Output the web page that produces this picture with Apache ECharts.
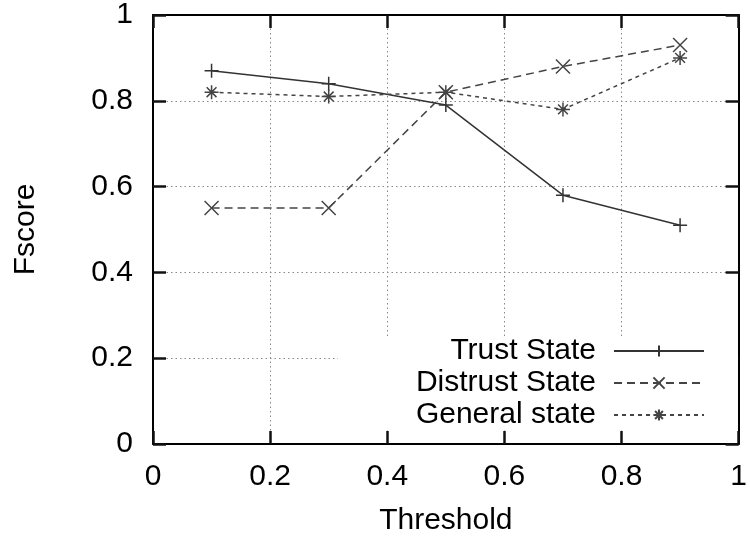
<!DOCTYPE html>
<html>
<head>
<meta charset="utf-8">
<script src="https://cdn.jsdelivr.net/npm/echarts@6/dist/echarts.min.js"></script>
<style>
  html, body { margin: 0; padding: 0; background: #fff; }
  #main { width: 750px; height: 541px; }
</style>
</head>
<body>
<div id="main"></div>
<script>
var thresholds = [0.1, 0.3, 0.5, 0.7, 0.9];
var trustState = [0.87, 0.84, 0.79, 0.58, 0.51];
var distrustState = [0.55, 0.55, 0.82, 0.88, 0.93];
var generalState = [0.82, 0.81, 0.82, 0.78, 0.90];
var seriesNames = ['Trust State', 'Distrust State', 'General state'];
var axisTicks = [0, 0.2, 0.4, 0.6, 0.8, 1];

var FONT = 'Liberation Sans, Arial, sans-serif';
var FS = 30;

function pairs(values) {
    var out = [];
    for (var i = 0; i < thresholds.length; i++) {
        out.push([thresholds[i], values[i]]);
    }
    return out;
}

function tickText(v) {
    return String(Math.round(v * 10) / 10);
}

// gnuplot style point shapes
var plusSym = 'path://M5,0L5,10M0,5L10,5';
var crossSym = 'path://M0,0L10,10M10,0L0,10';
var starSym = 'path://M5,0L5,10M0,5L10,5M1.5,1.5L8.5,8.5M8.5,1.5L1.5,8.5';

function makeSeries(name, values, symbol, dash, color) {
    return {
        name: name,
        type: 'line',
        data: pairs(values),
        symbol: symbol,
        symbolSize: 14,
        showSymbol: true,
        animation: false,
        itemStyle: { color: color, borderColor: color, borderWidth: 1.5 },
        lineStyle: { color: color, width: 1.5, type: dash },
        emphasis: { disabled: true }
    };
}

function axisLine() {
    return { show: true, onZero: false, lineStyle: { color: '#000', width: 2 } };
}
function axisTick() {
    return { show: true, inside: true, length: 13, lineStyle: { color: '#111', width: 2.5, type: 'solid' } };
}
function gridLine() {
    return { show: true, lineStyle: { color: '#888', width: 1, type: [1.5, 3] } };
}

var myChart = echarts.init(document.getElementById('main'));

var options = {
    backgroundColor: '#fff',
    textStyle: { fontFamily: FONT },
    grid: { left: 153, right: 10, top: 15, bottom: 96, containLabel: false },
    legend: {
        data: seriesNames,
        orient: 'vertical',
        align: 'right',
        right: 12,
        bottom: 111,
        itemWidth: 90,
        itemHeight: 14,
        itemGap: 2,
        padding: [0, 33, 0, 78],
        backgroundColor: '#fff',
        textStyle: { fontFamily: FONT, fontSize: FS, color: '#000', padding: [0, 13, 0, 0] },
        selectedMode: false
    },
    xAxis: [{
        type: 'value',
        position: 'bottom',
        min: axisTicks[0],
        max: axisTicks[axisTicks.length - 1],
        interval: 0.2,
        name: 'Threshold',
        nameLocation: 'middle',
        nameGap: 62,
        nameTextStyle: { fontFamily: FONT, fontSize: FS, color: '#000' },
        axisLine: axisLine(),
        axisTick: axisTick(),
        axisLabel: { fontFamily: FONT, fontSize: FS, color: '#000', margin: 18, formatter: tickText },
        splitLine: gridLine()
    }, {
        type: 'value',
        position: 'top',
        min: 0,
        max: 1,
        interval: 0.2,
        axisLine: axisLine(),
        axisTick: axisTick(),
        axisLabel: { show: false },
        splitLine: { show: false }
    }],
    yAxis: [{
        type: 'value',
        position: 'left',
        min: axisTicks[0],
        max: axisTicks[axisTicks.length - 1],
        interval: 0.2,
        name: 'Fscore',
        nameLocation: 'middle',
        nameGap: 112,
        nameTextStyle: { fontFamily: FONT, fontSize: FS, color: '#000' },
        axisLine: axisLine(),
        axisTick: axisTick(),
        axisLabel: { fontFamily: FONT, fontSize: FS, color: '#000', margin: 20, formatter: tickText },
        splitLine: gridLine()
    }, {
        type: 'value',
        position: 'right',
        min: 0,
        max: 1,
        interval: 0.2,
        axisLine: axisLine(),
        axisTick: axisTick(),
        axisLabel: { show: false },
        splitLine: { show: false }
    }],
    series: [
        makeSeries(seriesNames[0], trustState, plusSym, 'solid', '#333'),
        makeSeries(seriesNames[1], distrustState, crossSym, [8, 5], '#444'),
        makeSeries(seriesNames[2], generalState, starSym, [4, 4], '#444')
    ]
};

myChart.setOption(options, true);
window.onresize = myChart.resize;
</script>
</body>
</html>
